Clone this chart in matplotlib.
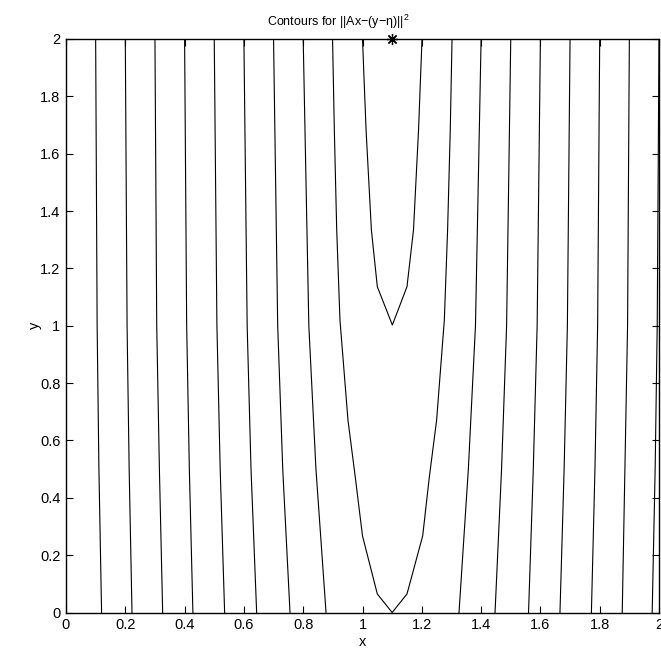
import matplotlib
matplotlib.use('Agg')
import matplotlib.pyplot as plt
import matplotlib.transforms as mtransforms

plt.rcParams['font.family'] = ['Liberation Sans', 'DejaVu Sans']
plt.rcParams['mathtext.fontset'] = 'custom'
plt.rcParams['mathtext.rm'] = 'Liberation Sans'
plt.rcParams['mathtext.it'] = 'Liberation Sans:italic'

# contour lines, each as (x points, y points)
# left family, outermost first
left_y = [2.0, 1.0, 0.5, 0.0]
left_x = [
    [0.100, 0.105, 0.111, 0.120],
    [0.200, 0.206, 0.213, 0.2226],
    [0.300, 0.306, 0.315, 0.326],
    [0.400, 0.407, 0.416, 0.428],
    [0.500, 0.509, 0.520, 0.535],
    [0.600, 0.611, 0.624, 0.643],
    [0.700, 0.714, 0.731, 0.7555],
    [0.800, 0.819, 0.843, 0.877],
]
# right family, innermost first
right_y = [2.0, 1.0, 0.5, 0.0]
right_x = [
    [1.400, 1.381, 1.357, 1.3255],
    [1.500, 1.486, 1.469, 1.447],
    [1.600, 1.589, 1.576, 1.560],
    [1.700, 1.691, 1.680, 1.666],
    [1.800, 1.793, 1.784, 1.772],
    [1.900, 1.894, 1.885, 1.876],
    [2.000, 1.994, 1.987, 1.977],
]
# wide U around the minimum
u_x = [0.899, 0.905, 0.913, 0.924, 0.951, 0.976, 1.000, 1.050, 1.100,
       1.150, 1.203, 1.225, 1.250, 1.276, 1.287, 1.296, 1.302]
u_y = [2.000, 1.683, 1.334, 1.020, 0.671, 0.469, 0.267, 0.0645, 0.000,
       0.0645, 0.267, 0.469, 0.671, 1.020, 1.334, 1.683, 2.000]
# narrow V at the top
v_x = [1.000, 1.012, 1.030, 1.050, 1.1007, 1.150, 1.172, 1.189, 1.2007]
v_y = [2.000, 1.683, 1.334, 1.136, 1.0026, 1.136, 1.334, 1.683, 2.000]
# minimiser marker
star_x = [1.1]
star_y = [2.0]

fig = plt.figure(figsize=(6.61, 6.53), dpi=100)
ax = fig.add_axes([66 / 661, 1 - 612.5 / 653, 593 / 661, 573.5 / 653])

for xs in left_x:
    ax.plot(xs, left_y, color='black', linewidth=0.8)
for xs in right_x:
    ax.plot(xs, right_y, color='black', linewidth=0.8)
ax.plot(u_x, u_y, color='black', linewidth=0.8)
ax.plot(v_x, v_y, color='black', linewidth=0.8)
ax.plot(star_x, star_y, linestyle='none', marker=(8, 2, 0), markersize=8,
        markeredgewidth=0.9, color='black', clip_on=False, zorder=5)

ax.set_xlim(0, 2)
ax.set_ylim(0, 2)
ticks = [0, 0.2, 0.4, 0.6, 0.8, 1, 1.2, 1.4, 1.6, 1.8, 2]
tick_labels = ['0', '0.2', '0.4', '0.6', '0.8', '1', '1.2', '1.4', '1.6', '1.8', '2']
ax.set_xticks(ticks)
ax.set_xticklabels(tick_labels)
ax.set_yticks(ticks)
ax.set_yticklabels(tick_labels)
ax.tick_params(direction='in', length=5, width=0.8, top=True, right=True,
               labelsize=10.5, pad=4)
for s in ax.spines.values():
    s.set_linewidth(1.0)

ax.set_xlabel('x', fontsize=10.5, labelpad=2)
ax.set_ylabel('y', fontsize=10.5, labelpad=-1)

trans = mtransforms.blended_transform_factory(ax.transData, ax.transAxes)
ax.text(0.678, 1.014, 'Contours for ||Ax\u2212(y\u2212\u03b7)||$^{2}$', transform=trans,
        ha='left', va='bottom', fontsize=9)

fig.savefig('out.png', dpi=100, facecolor='white')
